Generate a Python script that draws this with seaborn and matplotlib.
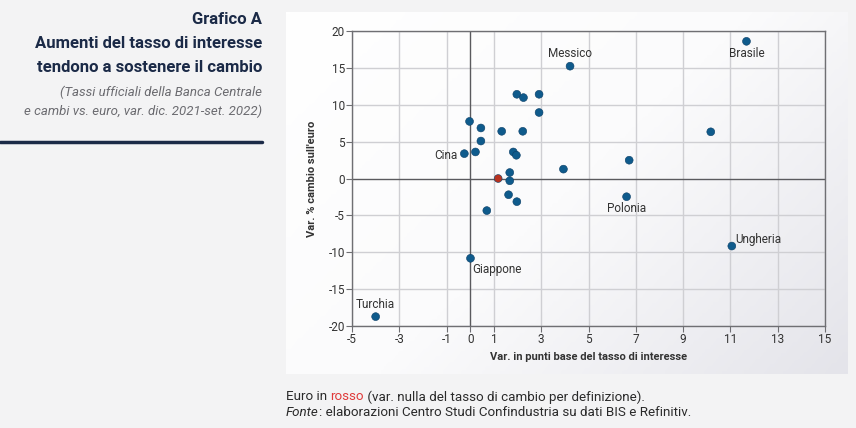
import numpy as np
import pandas as pd
import matplotlib
matplotlib.use('Agg')
import matplotlib.pyplot as plt
import seaborn as sns

# Dati: var. punti base tasso (x) e var. % cambio sull'euro (y)
paesi = ['Brasile', 'Messico', '', '', '', '', '', '', '', '', '', '',
         'Cina', '', '', '', '', '', '', 'Euro', '', '', '',
         'Polonia', '', 'Ungheria', 'Giappone', 'Turchia']
var_tasso = [11.68, 4.22, 1.97, 2.25, 2.91, 2.91, -0.03, 0.45, 1.33, 2.22, 10.17, 0.45,
             -0.25, 0.22, 1.82, 1.95, 6.72, 3.94, 1.67, 1.18, 1.67, 1.62, 1.97,
             6.61, 0.70, 11.06, 0.01, -4.00]
var_cambio = [18.6, 15.23, 11.42, 10.97, 11.42, 8.95, 7.74, 6.85, 6.4, 6.4, 6.33, 5.08,
              3.37, 3.6, 3.6, 3.15, 2.48, 1.27, 0.81, 0.0, -0.31, -2.2, -3.14,
              -2.47, -4.35, -9.16, -10.82, -18.73]

x_ticks = [-5, -3, -1, 0, 1, 3, 5, 7, 9, 11, 13, 15]
y_ticks = [-20, -15, -10, -5, 0, 5, 10, 15, 20]

df = pd.DataFrame({'paese': paesi, 'x': var_tasso, 'y': var_cambio})
df['gruppo'] = np.where(df['paese'] == 'Euro', 'euro', 'altri')

sns.set_style('white')
plt.rcParams['font.family'] = ['Roboto', 'DejaVu Sans']
plt.rcParams['axes.unicode_minus'] = False

navy = '#1b2a47'
fig = plt.figure(figsize=(8.56, 4.28), dpi=100)
fig.patch.set_facecolor('#f3f3f4')

# pannello bianco sfumato
bg = fig.add_axes([286/856, 1-374/428, (848-286)/856, (374-12)/428])
gx, gy = np.meshgrid(np.linspace(0, 1, 200), np.linspace(0, 1, 100))
grad = (gx * 0.6 + gy * 0.4)
bg.imshow(grad, cmap=matplotlib.colors.LinearSegmentedColormap.from_list(
    'g', ['#ffffff', '#fbfbfc', '#e4e4ea']), aspect='auto', extent=[0, 1, 0, 1])
bg.set_axis_off()

ax = fig.add_axes([352/856, 1-326/428, (825-352)/856, (326-31)/428])
ax.set_facecolor('none')
sns.scatterplot(data=df, x='x', y='y', hue='gruppo',
                palette={'altri': '#0f5b8c', 'euro': '#b8321f'},
                s=32, edgecolor='#0b3e66', linewidth=0.4, legend=False,
                zorder=5, ax=ax)

ax.set_xlim(-5, 15)
ax.set_ylim(-20, 20)
ax.set_xticks(x_ticks)
ax.set_yticks(y_ticks)
for v in x_ticks:
    if v != 0:
        ax.axvline(v, color='#cfcfd3', lw=1, zorder=1)
for v in y_ticks:
    if v != 0:
        ax.axhline(v, color='#cfcfd3', lw=1, zorder=1)
ax.axvline(0, color='#5a5a5e', lw=1, zorder=2)
ax.axhline(0, color='#5a5a5e', lw=1, zorder=2)
for s in ax.spines.values():
    s.set_color('#6f6f73')
    s.set_linewidth(1)
ax.tick_params(axis='both', length=4, width=0.8, color='#6f6f73',
               labelsize=8.5, labelcolor='#333333', pad=1, direction='out')
ax.tick_params(axis='x', bottom=True)
ax.tick_params(axis='y', left=True)

ax.set_xlabel('Var. in punti base del tasso di interesse', fontsize=8,
              fontweight='bold', color='#333333', labelpad=4)
ax.set_ylabel("Var. % cambio sull'euro", fontsize=8, fontweight='bold',
              color='#333333', labelpad=8)

# etichette paesi
offs = {'Brasile': (0, -12, 'center'), 'Messico': (0, 13, 'center'),
        'Cina': (-7, -2, 'right'), 'Polonia': (0, -12, 'center'),
        'Ungheria': (3, 7, 'left'), 'Giappone': (2, -11, 'left'),
        'Turchia': (0, 12, 'center')}
for _, r in df.iterrows():
    if r['paese'] in offs:
        dx, dy, ha = offs[r['paese']]
        ax.annotate(r['paese'], (r['x'], r['y']), xytext=(dx, dy),
                    textcoords='offset pixels', ha=ha, va='center',
                    fontsize=8.5, color='#333333', zorder=6)

# titolo a sinistra
for testo, yy in [('Grafico A', 20), ('Aumenti del tasso di interesse', 44),
                  ('tendono a sostenere il cambio', 68)]:
    fig.text(262/856, 1-yy/428, testo, ha='right', va='center',
             fontsize=12, fontweight='bold', color=navy)
fig.text(262/856, 1-92/428, '(Tassi ufficiali della Banca Centrale', ha='right',
         va='center', fontsize=9.5, style='italic', color='#6b6b70')
fig.text(262/856, 1-111/428, 'e cambi vs. euro, var. dic. 2021-set. 2022)',
         ha='right', va='center', fontsize=9.5, style='italic', color='#6b6b70')
fig.add_artist(plt.Line2D([0, 262/856], [1-142/428, 1-142/428],
                          color=navy, lw=2.5))

# note
fs = 9.6
y1 = 1 - 397/428
t = fig.text(286/856, y1, 'Euro in ', fontsize=fs, va='center', color='#2a2a2a')
t = ax.annotate('rosso', xycoords=t, xy=(1, 0), va='bottom',
                fontsize=fs, color='#e03a3a', annotation_clip=False)
ax.annotate(' (var. nulla del tasso di cambio per definizione).', xycoords=t,
            xy=(1, 0), va='bottom', fontsize=fs, color='#2a2a2a',
            annotation_clip=False)
y2 = 1 - 413/428
t = fig.text(286/856, y2, 'Fonte', fontsize=fs, va='center', style='italic',
             color='#2a2a2a')
ax.annotate(': elaborazioni Centro Studi Confindustria su dati BIS e Refinitiv.',
            xycoords=t, xy=(1, 0), va='bottom', fontsize=fs, color='#2a2a2a',
            annotation_clip=False)

plt.savefig('out.png', dpi=100, facecolor=fig.get_facecolor())
